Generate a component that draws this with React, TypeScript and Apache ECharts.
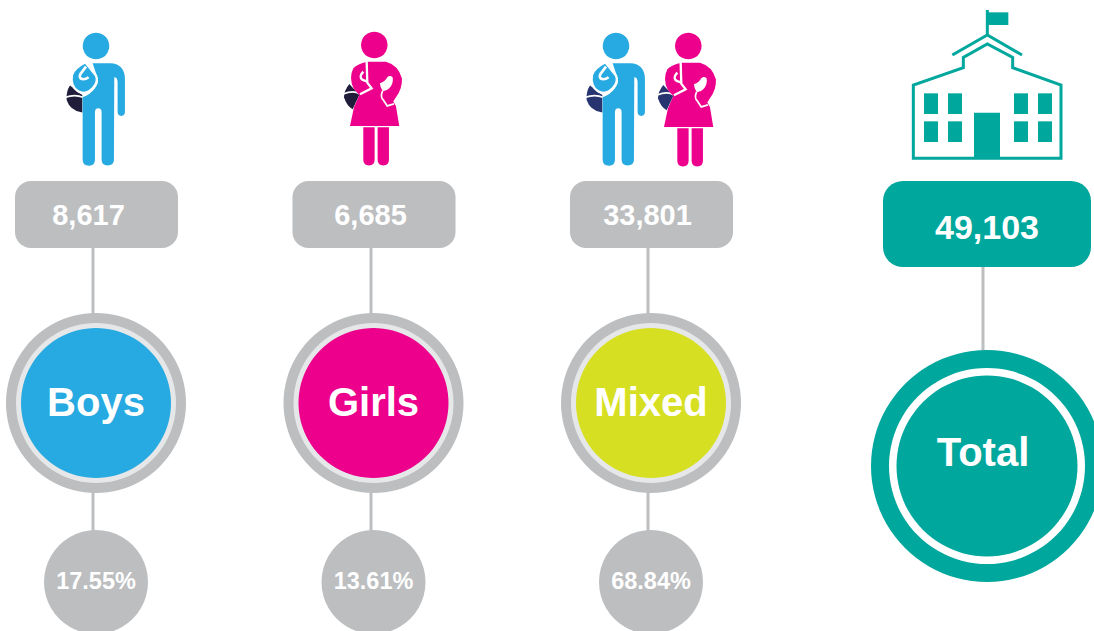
import React, { useEffect, useRef } from "react";
import * as echarts from "echarts";

const categories = ["Boys", "Girls", "Mixed"];
const counts = ["8,617", "6,685", "33,801"];
const percents = ["17.55%", "13.61%", "68.84%"];
const totalLabel = "Total";
const totalCount = "49,103";

const BLUE = "#27aae1";
const PINK = "#ec008c";
const LIME = "#d7df23";
const TEAL = "#00a79d";
const GRAY = "#bcbec0";
const LIGHT = "#e6e7e8";
const INK = "#1f1d3a";
const NAVY = "#27346f";
const FONT = '"Liberation Sans", Arial, sans-serif';

const colors = [BLUE, PINK, LIME];
const circleX = [96, 373.5, 651];
const lineX = [93, 371, 648];
const rectX = [15, 292.5, 570];
const countX = [88.5, 370.5, 647.5];
const pctX = [96, 373.5, 651];

const BOY_BODY =
  "M128 130 L185 130 Q225 135 225 178 L225 275 Q225 288 214 288 Q203 288 203 275 L203 185 Q202 172 193 172 L192 420 Q192 437 173 437 Q155 437 155 420 L155 277 Q155 265 145 265 Q135 265 135 277 L135 420 Q135 438 117 438 Q98 438 98 420 L98 232 Q120 225 135 205 Q150 185 140 165 Z";
const BOY_SLING =
  "M106 127 L138 167 Q146 185 130 203 Q108 228 84 214 Q60 198 66 165 Q72 145 106 127 Z";
const BOY_HOOK = "M108 140 L91 163 Q85 176 100 178 Q108 178 116 172";
const BAG = "M60 197 Q48 215 50 240 Q60 272 97 278 L97 225 Z";
const BAG_LINE = "M46 232 Q75 222 99 232";

const GIRL_BODY =
  "M113 125 L168 125 Q205 135 216 175 Q218 205 198 232 L190 245 L198 258 L208 318 L60 318 L72 262 L88 225 L72 208 Q55 175 70 145 Q85 130 113 125 Z";
const GIRL_CUT =
  "M150 190 Q165 185 172 172 Q180 165 188 172 Q192 190 178 205 Q168 215 158 213 Q150 200 150 190 Z";
const GIRL_CUT_LINE = "M158 213 Q150 232 160 240 L172 258 L192 252";
const GIRL_HOOK = "M110 122 L112 188 L125 205 L90 223 M100 155 Q85 172 98 180 L115 186";
const GIRL_BAG = "M58 192 Q42 212 42 232 Q50 258 68 268 L88 225 Z";
const GIRL_BAG_LINE = "M40 222 Q70 210 90 222";
const GIRL_LEGS =
  "M100 322 L134 322 L134 420 Q134 437 117 437 Q100 437 100 420 Z M143 322 L177 322 L177 420 Q177 437 160 437 Q143 437 143 420 Z";

[
  ["boyBody", BOY_BODY], ["boySling", BOY_SLING], ["boyHook", BOY_HOOK], ["bag", BAG], ["bagLine", BAG_LINE],
  ["girlBody", GIRL_BODY], ["girlCut", GIRL_CUT], ["girlCutLine", GIRL_CUT_LINE], ["girlHook", GIRL_HOOK],
  ["girlBag", GIRL_BAG], ["girlBagLine", GIRL_BAG_LINE], ["girlLegs", GIRL_LEGS],
].forEach(([n, d]) => echarts.graphic.registerShape(n, echarts.graphic.extendPath(d, {})));

function text(t: string, x: number, y: number, fontSize: number) {
  return {
    type: "text",
    z: 20,
    style: { text: t, x, y, align: "center", verticalAlign: "middle", fontSize, fontWeight: "bold", fontFamily: FONT, fill: "#ffffff" },
  };
}
function circle(cx: number, cy: number, r: number, fill: string, z = 5) {
  return { type: "circle", z, shape: { cx, cy, r }, style: { fill } };
}
function vline(x: number, y1: number, y2: number) {
  return { type: "line", z: 1, shape: { x1: x, y1, x2: x, y2 }, style: { stroke: GRAY, lineWidth: 3 } };
}
function boy(ox: number, oy: number, bag: string) {
  const t = { x: ox, y: oy, scaleX: 1 / 3, scaleY: 1 / 3 };
  return [
    circle(ox + 46, oy + 26, 13.3, BLUE, 10),
    { type: "bag", z: 9, ...t, style: { fill: bag } },
    { type: "bagLine", z: 9, ...t, style: { fill: "none", stroke: "#fff", lineWidth: 5 } },
    { type: "boyBody", z: 10, ...t, style: { fill: BLUE } },
    { type: "boySling", z: 11, ...t, style: { fill: BLUE, stroke: "#fff", lineWidth: 7 } },
    { type: "boyHook", z: 12, ...t, style: { fill: "none", stroke: "#fff", lineWidth: 8 } },
  ];
}
function girl(ox: number, oy: number, bag: string) {
  const t = { x: ox, y: oy, scaleX: 1 / 3, scaleY: 1 / 3 };
  return [
    circle(ox + 44.3, oy + 25, 13.3, PINK, 10),
    { type: "girlBag", z: 9, ...t, style: { fill: bag } },
    { type: "girlBagLine", z: 9, ...t, style: { fill: "none", stroke: "#fff", lineWidth: 5 } },
    { type: "girlBody", z: 10, ...t, style: { fill: PINK } },
    { type: "girlLegs", z: 10, ...t, style: { fill: PINK } },
    { type: "girlCut", z: 12, ...t, style: { fill: "#fff" } },
    { type: "girlCutLine", z: 12, ...t, style: { fill: "none", stroke: "#fff", lineWidth: 5 } },
    { type: "girlHook", z: 12, ...t, style: { fill: "none", stroke: "#fff", lineWidth: 7 } },
  ];
}
function school(ox: number, oy: number) {
  const s = (v: number) => v / 3;
  const st = { fill: "none", stroke: TEAL, lineWidth: 3 };
  const pts = (a: number[][]) => a.map(([x, y]) => [ox + s(x), oy + s(y)]);
  const box = (x1: number, y1: number, x2: number, y2: number) => ({
    type: "rect", z: 5,
    shape: { x: ox + s(x1), y: oy + s(y1), width: s(x2 - x1), height: s(y2 - y1) },
    style: { fill: TEAL },
  });
  const out: any[] = [
    { type: "polygon", z: 5, shape: { points: pts([[40, 475], [40, 255], [190, 203], [190, 172], [262, 132], [338, 172], [338, 203], [483, 255], [483, 475]]) }, style: st },
    { type: "polyline", z: 5, shape: { points: pts([[157, 165], [262, 105], [366, 165]]) }, style: st },
    { type: "polyline", z: 5, shape: { points: pts([[262, 30], [262, 105]]) }, style: st },
    box(262, 37, 325, 75),
    box(222, 338, 300, 475),
  ];
  [72, 144, 342, 414].forEach((x) => [280, 364].forEach((y) => out.push(box(x, y, x + 42, y + 62))));
  return out;
}

export default function App() {
  const ref = useRef<HTMLDivElement>(null);
  useEffect(() => {
    const chart = echarts.init(ref.current!, null, { renderer: "svg" });
    const g: any[] = [];
    categories.forEach((c, i) => {
      g.push(vline(lineX[i], 247, 315), vline(lineX[i], 491, 532));
      g.push({ type: "rect", z: 5, shape: { x: rectX[i], y: 181, width: 163, height: 67, r: 16 }, style: { fill: GRAY } });
      g.push(text(counts[i], countX[i], 215, 29));
      g.push(circle(circleX[i], 403, 90, GRAY), circle(circleX[i], 403, 80, LIGHT, 6), circle(circleX[i], 403, 75, colors[i], 7));
      g.push(text(c, circleX[i], 402, 40));
      g.push(circle(pctX[i], 582, 52, GRAY));
      g.push(text(percents[i], pctX[i], 581, 23.5));
    });
    g.push(vline(983, 266, 352));
    g.push({ type: "rect", z: 5, shape: { x: 883, y: 181, width: 208, height: 86, r: 20 }, style: { fill: TEAL } });
    g.push(text(totalCount, 987, 227, 34));
    g.push(circle(987, 466, 116, TEAL), circle(987, 466, 98, "#ffffff", 6), circle(987, 466, 90.5, TEAL, 7));
    g.push(text(totalLabel, 983, 452, 40));
    g.push(...boy(50, 20, INK), ...girl(330, 20, INK), ...boy(570, 20, NAVY), ...girl(644, 21, NAVY), ...school(900, 0));
    chart.setOption({ animation: false, graphic: { elements: g } });
    return () => chart.dispose();
  }, []);
  return <div ref={ref} style={{ position: "absolute", left: 0, top: 0, width: 1094, height: 631 }} />;
}
